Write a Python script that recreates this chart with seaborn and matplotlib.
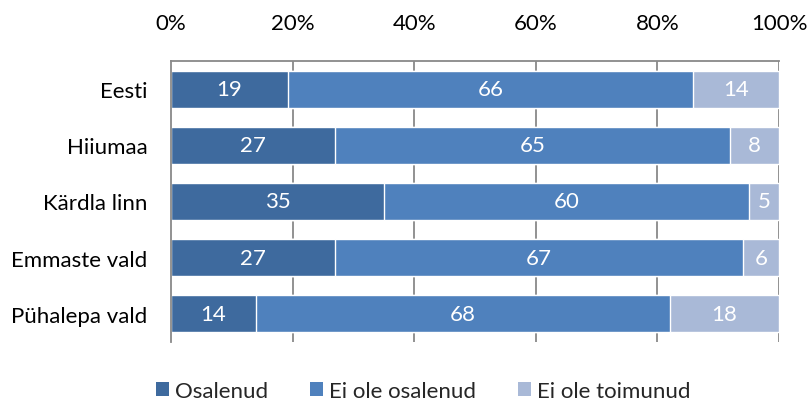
import numpy as np
import pandas as pd
import matplotlib
matplotlib.use("Agg")
import matplotlib.pyplot as plt
from matplotlib.patches import Patch
import seaborn as sns

categories = ["Eesti", "Hiiumaa", "Kärdla linn", "Emmaste vald", "Pühalepa vald"]
series_names = ["Osalenud", "Ei ole osalenud", "Ei ole toimunud"]
osalenud = [19, 27, 35, 27, 14]
ei_osalenud = [66, 65, 60, 67, 68]
ei_toimunud = [14, 8, 5, 6, 18]
tick_labels = ["0%", "20%", "40%", "60%", "80%", "100%"]

colors = ["#3E6A9E", "#4F81BD", "#A9B9D7"]
grid_color = "#898989"
fs = 16

sns.set_theme(style="white")
plt.rcParams["font.family"] = ["Lato", "DejaVu Sans"]

values = np.array([osalenud, ei_osalenud, ei_toimunud], dtype=float)
shares = values / values.sum(axis=0) * 100
cum = np.cumsum(shares, axis=0)

fig = plt.figure(figsize=(8.07, 4.06), dpi=100)
ax = fig.add_axes([171 / 807, 1 - 343 / 406, 608 / 807, 281 / 406])

# Stacked bars: draw cumulative totals from the outermost segment inwards
for i in range(len(series_names) - 1, -1, -1):
    df = pd.DataFrame({"kategooria": categories, "share": cum[i]})
    sns.barplot(data=df, y="kategooria", x="share", orient="y",
                color=colors[i], saturation=1, width=0.66, ax=ax, zorder=2)

for i in range(len(series_names)):
    starts = cum[i] - shares[i]
    for j, cat in enumerate(categories):
        ax.text(starts[j] + shares[i][j] / 2, j, f"{int(values[i][j])}",
                ha="center", va="center", color="white", fontsize=fs, zorder=4)

ax.set_xlim(0, 100)
ax.set_ylim(4.5, -0.5)
ax.set_xticks(np.arange(0, 101, 20))
ax.set_xticklabels(tick_labels)
ax.xaxis.tick_top()
ax.tick_params(axis="x", length=0, pad=20, labelsize=fs, colors="black")
ax.tick_params(axis="y", length=0, pad=17, labelsize=fs, colors="black")
ax.set_xlabel("")
ax.set_ylabel("")

for x in np.arange(20, 101, 20):
    ax.axvline(x, color=grid_color, lw=1.3, zorder=1)

for side in ["bottom", "right"]:
    ax.spines[side].set_visible(False)
for side in ["top", "left"]:
    ax.spines[side].set_color(grid_color)
    ax.spines[side].set_linewidth(1.3)
ax.spines["left"].set_zorder(3)

handles = [Patch(facecolor=c, edgecolor="none") for c in colors]
fig.legend(handles, series_names, loc="center", bbox_to_anchor=(423 / 807, 1 - 392 / 406),
           ncol=3, frameon=False, fontsize=fs, handlelength=0.6, handleheight=0.6,
           handletextpad=0.25, columnspacing=1.9)

fig.savefig("out.png", dpi=100)
